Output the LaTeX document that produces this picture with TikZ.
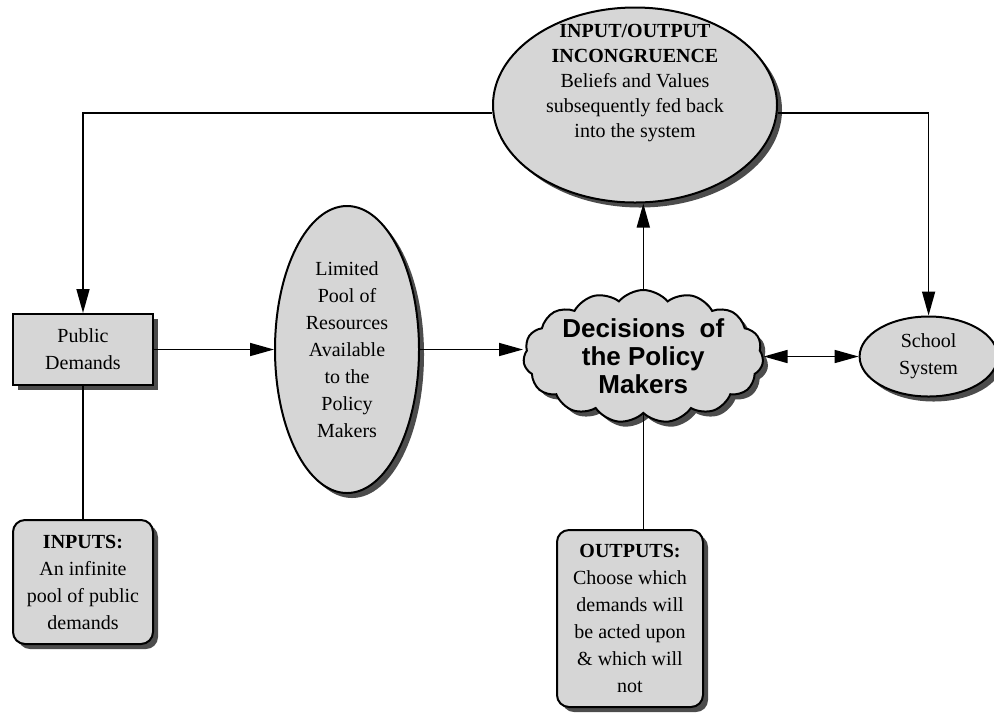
\documentclass[tikz,border=0pt]{standalone}
\usepackage{fontspec}
\setmainfont{Liberation Serif}
\newfontfamily\cloudfont{Liberation Sans}
\usepackage{tikz}
\usetikzlibrary{positioning,shapes,arrows.meta,shadows}
\tikzstyle{dropped} = [drop shadow={shadow xshift=2.5pt, shadow yshift=-2.5pt, %
   fill=black!70, opacity=1}]
\tikzstyle{box1} = [rectangle, draw, line width=1pt, fill=black!16, dropped, %
   text centered, inner sep=0pt]
\tikzstyle{box2} = [rectangle, draw, line width=1pt, fill=black!16, dropped, %
   text centered, rounded corners=6pt, inner sep=0pt]
\tikzstyle{oval} = [ellipse, draw, line width=1pt, fill=black!16, dropped, %
   text centered, inner sep=0pt]
\tikzstyle{puff} = [cloud, draw, line width=1pt, fill=black!16, dropped, cloud puffs=15, %
   cloud puff arc=100, cloud ignores aspect, inner sep=0pt, %
   font=\cloudfont\bfseries\fontsize{13}{14}\selectfont]
\tikzstyle{line} = [draw, thick, -{Triangle[length=12pt,width=6.5pt]}]

\begin{document}
\begin{tikzpicture}[x=0.5pt, y=-0.5pt, font=\fontsize{10}{13.5}\selectfont]
   \useasboundingbox (0,0) rectangle (994,719);

   % Place nodes
   \node[box1, minimum width=70pt, minimum height=35.5pt, align=center] (pubdem) at (83,349.5) {%
      Public\\Demands};
   \node[box2, below=66.5pt of pubdem, minimum width=70pt, minimum height=62pt, align=center] (inputs) {%
      \textbf{INPUTS:}\\An infinite\\pool of public\\demands};
   \node[oval, right=60pt of pubdem, minimum width=72pt, minimum height=143.5pt, align=center] (pool) {%
      Limited\\Pool of\\Resources\\Available\\to the\\Policy\\Makers};
   \node[puff, right=51.5pt of pool, yshift=-3.5pt, minimum width=120pt, minimum height=66.5pt, align=center] (decide) {%
      Decisions\ \ of\\the Policy\\Makers};
   \node[oval, right=47.5pt of decide, minimum width=69pt, minimum height=40pt, align=center] (school) {School\\System};

   % FEEDBACK %%%%%%%%%%%%%%%%%%%%%%%%%%%%%%%%%%%%%%%%%%%%%%%%%%%%%%%%%
   \node[oval, minimum width=142pt, minimum height=97.5pt] (incong) at (635,105) {};
   \node[align=center, font=\fontsize{10}{12.5}\selectfont] (incongtext) at ([yshift=11pt]incong.center) {%
      \textbf{INPUT/OUTPUT}\\\textbf{INCONGRUENCE}\\Beliefs and Values\\subsequently fed back\\into the system};

   \node[box2, minimum width=73pt, minimum height=88.5pt, align=center] (outputs) at (630,618.5) {%
      \textbf{OUTPUTS:}\\Choose which\\demands will\\be acted upon\\\& which will\\not};

   % Draw edges
   % Main spine
   \path [line] (pubdem) -- (pool);
   \path [line] (pool.east) -- (pool.east -| decide.west);
   \path [line] (decide.north) -- (decide.north |- incong.south);
   \path [line, {Triangle[length=12pt,width=6.5pt]}-{Triangle[length=12pt,width=6.5pt]}] (decide) -- (school);
   \path [line] ([yshift=-4pt]incong.west) -| (pubdem.north);
   \path [line] ([yshift=-4pt]incong.east) -| (school.north);
   \path [draw, thick, -] (pubdem) -- (inputs);
   \path [draw, thick, -] (decide.south) -- (decide.south |- outputs.north);

\end{tikzpicture}
\end{document}
